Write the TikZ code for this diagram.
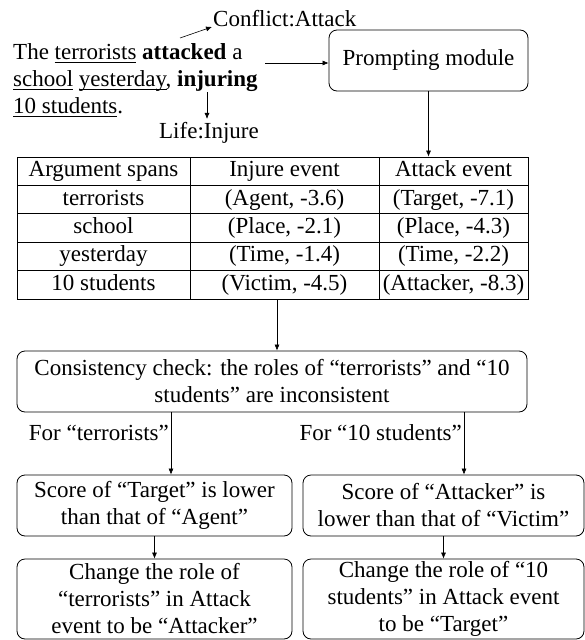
\documentclass[tikz,border=0pt]{standalone}
\usepackage{fontspec}
\setmainfont{Liberation Serif}
\usetikzlibrary{arrows.meta}

\newsavebox{\undlbox}
\newcommand{\undl}[1]{\sbox{\undlbox}{#1}\rlap{\rule[-3pt]{\wd\undlbox}{0.8pt}}#1}

\begin{document}
\begin{tikzpicture}[x=1pt, y=-1pt,
  font=\fontsize{23}{27}\selectfont,
  box/.style={draw, rounded corners=8pt, align=center, line width=0.8pt, inner sep=2pt},
  cell/.style={inner sep=0, text height=16pt, text depth=5pt},
  arr/.style={-{Latex[length=6pt,width=5pt]}, line width=0.6pt}]
  \useasboundingbox (0,0) rectangle (585,640);

  % input sentence and trigger types
  \node[anchor=west, align=left, inner sep=0] (sent) at (13,80)
    {The \undl{terrorists} \textbf{attacked} a\\
     \undl{school} \undl{yesterday}, \textbf{injuring}\\
     \undl{10 students}.};
  \node[anchor=west, inner sep=1pt] (conf) at (212,19) {Conflict:Attack};
  \node (life) at (209,133) {Life:Injure};
  \coordinate (atk) at (180,38);
  \coordinate (inj) at (207,92);
  \draw[arr] (atk) -- (conf.base west);
  \draw[arr] (inj) -- (inj |- life.north);

  % prompting module
  \node[box, minimum width=199pt, minimum height=61pt] (prompt) at (428.5,60.5) {Prompting module};
  \coordinate (snt) at (265,63);
  \draw[arr] (snt) -- (snt -| prompt.west);

  % table of role scores
  \node[draw, line width=0.8pt, minimum width=511pt, minimum height=142pt, inner sep=0] (tab) at (272.5,228) {};
  \foreach \r in {1,...,4}
    \draw[line width=0.8pt] (17,157+28.4*\r) -- (528,157+28.4*\r);
  \draw[line width=0.8pt] (190,157) -- (190,299);
  \draw[line width=0.8pt] (379,157) -- (379,299);
  \foreach \i/\a/\b/\c in {0/Argument spans/Injure event/Attack event,
      1/terrorists/{(Agent, -3.6)}/{(Target, -7.1)},
      2/school/{(Place, -2.1)}/{(Place, -4.3)},
      3/yesterday/{(Time, -1.4)}/{(Time, -2.2)},
      4/10 students/{(Victim, -4.5)}/{(Attacker, -8.3)}} {
    \node[cell] at (103.5,171.2+28.4*\i) {\a};
    \node[cell] at (284.5,171.2+28.4*\i) {\b};
    \node[cell] at (453.5,171.2+28.4*\i) {\c};
  }
  \draw[arr] (prompt.south) -- (prompt.south |- tab.north);

  % consistency check
  \node[box, minimum width=510pt, minimum height=61pt] (check) at (272,381.5)
    {Consistency check: the roles of “terrorists” and “10\\students” are inconsistent};
  \draw[arr] ([xshift=4.5pt]tab.south) -- ([xshift=4.5pt]tab.south |- check.north);

  \node[anchor=east, inner sep=2pt] (lfor) at (171,433) {For “terrorists”};
  \node[anchor=east, inner sep=2pt] (rfor) at (464,433) {For “10 students”};

  \node[box, minimum width=275pt, minimum height=61pt] (scoreL) at (154.5,505.5)
    {Score of “Target” is lower\\than that of “Agent”};
  \node[box, minimum width=281pt, minimum height=61pt] (scoreR) at (443.5,505.5)
    {Score of “Attacker” is\\lower than that of “Victim”};
  \node[box, minimum width=275pt, minimum height=80pt] (chgL) at (154.5,599)
    {Change the role of\\“terrorists” in Attack\\event to be “Attacker”};
  \node[box, minimum width=281pt, minimum height=80pt] (chgR) at (443.5,599)
    {Change the role of “10\\students” in Attack event\\to be “Target”};

  \draw[arr] (check.south -| lfor.east) -- (scoreL.north -| lfor.east);
  \draw[arr] (check.south -| rfor.east) -- (scoreR.north -| rfor.east);
  \draw[arr] (scoreL.south) -- (chgL.north);
  \draw[arr] (scoreR.south) -- (chgR.north);

\end{tikzpicture}
\end{document}
